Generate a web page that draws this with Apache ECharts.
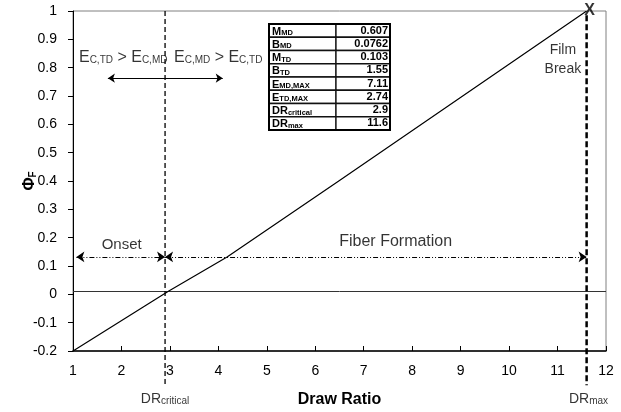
<!DOCTYPE html>
<html><head><meta charset="utf-8">
<script src="https://cdn.jsdelivr.net/npm/echarts@6/dist/echarts.min.js"></script>
<style>html,body{margin:0;padding:0;background:#fff}#c{width:621px;height:412px}</style>
</head><body><div id="c"></div>
<script>
// ---- data ----
const curveX = [1, 2.96, 4.18, 6.5, 11.6];
const curveY = [-0.2, 0.01, 0.132, 0.402, 1.0];
const zeroLineY = 0.01;
const drCritical = 2.9;
const drMax = 11.6;
const xRange = [1, 12];
const yRange = [-0.2, 1];
const formationArrowY = 0.132;
const onsetRange = [1.07, drCritical];
const fiberRange = [drCritical, drMax];
const ecArrowY = 0.763;
const ecArrowRange = [1.72, 4.09];
const tableLabels = [['M','MD'],['B','MD'],['M','TD'],['B','TD'],['E','MD,MAX'],['E','TD,MAX'],['DR','critical'],['DR','max']];
const tableValues = ['0.607','0.0762','0.103','1.55','7.11','2.74','2.9','11.6'];

const FONT = '"Liberation Sans", Arial, sans-serif';
const chart = echarts.init(document.getElementById('c'), null, {renderer:'canvas'});

const curveData = curveX.map((x,i)=>[x, curveY[i]]);

const subRich = {
  n:{fontSize:16, lineHeight:20, verticalAlign:'bottom', color:'#000', fontFamily:FONT},
  s:{fontSize:10, lineHeight:14, verticalAlign:'bottom', color:'#000', fontFamily:FONT}
};
const drRich = {
  n:{fontSize:14, lineHeight:18, verticalAlign:'bottom', color:'#000', fontFamily:FONT},
  s:{fontSize:10, lineHeight:11, verticalAlign:'bottom', color:'#000', fontFamily:FONT}
};

function ann(x, y, text, extra){
  return {value:[x,y], label:Object.assign({show:true, formatter:text, position:'inside', color:'#000', fontFamily:FONT, fontSize:15}, extra||{})};
}

const annotations = [
  ann(2.036, 0.844, '{n|E}{s|C,TD}{n| > E}{s|C,MD}', {rich:subRich}),
  ann(3.997, 0.844, '{n|E}{s|C,MD}{n| > E}{s|C,TD}', {rich:subRich}),
  ann(2.005, 0.173, 'Onset', {fontSize:15}),
  ann(7.66, 0.187, 'Fiber Formation', {fontSize:16}),
  ann(11.11, 0.828, 'Film\nBreak', {fontSize:14, align:'center', lineHeight:19}),
  ann(11.66, 1.0, 'X', {fontSize:16, fontWeight:'bold'}),
  ann(drCritical, -0.363, '{n|DR}{s|critical}', {rich:drRich}),
  ann(11.64, -0.363, '{n|DR}{s|max}', {rich:drRich})
];

// table graphic
const tLeft = 269, tTop = 24, c1 = 67, c2 = 54, rh = 13.25;
const graphics = [];
tableLabels.forEach((lab, i) => {
  const y = tTop + i*rh;
  graphics.push({type:'rect', shape:{x:tLeft, y:y, width:c1, height:rh}, style:{fill:'#fff', stroke:'#111', lineWidth:1.3}, z:10});
  graphics.push({type:'rect', shape:{x:tLeft+c1, y:y, width:c2, height:rh}, style:{fill:'#fff', stroke:'#111', lineWidth:1.3}, z:10});
  graphics.push({type:'text', x:tLeft+3, y:y+rh/2, z:11, style:{
    text:'{m|'+lab[0]+'}{s|'+lab[1]+'}', verticalAlign:'middle', align:'left',
    rich:{m:{fontSize:11, fontWeight:'bold', lineHeight:13, verticalAlign:'bottom', fontFamily:FONT, fill:'#000'},
          s:{fontSize:7.5, fontWeight:'bold', lineHeight:7, verticalAlign:'bottom', fontFamily:FONT, fill:'#000'}}
  }});
  graphics.push({type:'text', x:tLeft+c1+c2-2, y:y+rh/2, z:11, style:{
    text:tableValues[i], align:'right', verticalAlign:'middle', fontSize:11, fontWeight:'bold', fontFamily:FONT, fill:'#000'
  }});
});
graphics.push({type:'rect', shape:{x:tLeft, y:tTop, width:c1+c2, height:rh*tableLabels.length}, style:{fill:'none', stroke:'#000', lineWidth:2}, z:12});

const arrowDash = [5,2,1,2,1,2];

const option = {
  animation:false,
  textStyle:{fontFamily:FONT},
  grid:{left:73, right:15, top:11, bottom:61, show:true, borderColor:'#808080', borderWidth:1, outerBoundsMode:'none', containLabel:false},
  xAxis:{type:'value', min:xRange[0], max:xRange[1], interval:1,
    axisLine:{show:true, onZero:false, lineStyle:{color:'#000', width:1.5}},
    axisTick:{show:true, inside:true, length:5, lineStyle:{color:'#000'}},
    splitLine:{show:false},
    axisLabel:{fontSize:14, color:'#000', margin:13, fontFamily:FONT},
    name:'Draw Ratio', nameLocation:'middle', nameGap:41,
    nameTextStyle:{fontSize:16, fontWeight:'bold', color:'#000', fontFamily:FONT}
  },
  yAxis:{type:'value', min:yRange[0], max:yRange[1], interval:0.1,
    axisLine:{show:true, onZero:false, lineStyle:{color:'#000', width:1}},
    axisTick:{show:true, inside:false, length:5, lineStyle:{color:'#000'}},
    splitLine:{show:false},
    axisLabel:{fontSize:14, color:'#000', margin:16, fontFamily:FONT},
    name:'{a|Φ}{b|F}', nameLocation:'middle', nameGap:35, nameRotate:90, nameMoveOverlap:false,
    nameTextStyle:{rich:{
      a:{fontSize:16, fontWeight:'bold', lineHeight:20, verticalAlign:'bottom', color:'#000', fontFamily:FONT},
      b:{fontSize:10, fontWeight:'bold', lineHeight:12, verticalAlign:'bottom', color:'#000', fontFamily:FONT}}}
  },
  graphic:graphics,
  series:[
    {type:'line', name:'zero', data:[[xRange[0],zeroLineY],[xRange[1],zeroLineY]], symbol:'none', lineStyle:{color:'#333', width:1}, silent:true, z:1},
    {type:'line', name:'curve', data:curveData, symbol:'none', lineStyle:{color:'#000', width:1.2}, z:3},
    {type:'line', name:'drc', data:[[drCritical, yRange[1]],[drCritical,-0.321]], symbol:'none', clip:false, lineStyle:{color:'#000', width:1.3, type:[5,3]}, z:2},
    {type:'line', name:'drm', data:[[drMax, 0.985],[drMax,-0.321]], symbol:'none', clip:false, lineStyle:{color:'#000', width:2.5, type:[6,3]}, z:2},
    {type:'lines', coordinateSystem:'cartesian2d', symbol:['arrow','arrow'], symbolSize:8,
      lineStyle:{color:'#000', width:1, type:arrowDash, opacity:1}, z:4,
      data:[{coords:[[onsetRange[0],formationArrowY],[onsetRange[1],formationArrowY]]},
            {coords:[[fiberRange[0],formationArrowY],[fiberRange[1],formationArrowY]]}]},
    {type:'lines', coordinateSystem:'cartesian2d', symbol:['arrow','arrow'], symbolSize:7,
      lineStyle:{color:'#000', width:1, opacity:1}, z:4,
      data:[{coords:[[ecArrowRange[0],ecArrowY],[ecArrowRange[1],ecArrowY]]}]},
    {type:'scatter', name:'annotations', data:annotations, symbolSize:1, clip:false, itemStyle:{color:'rgba(0,0,0,0)'}, z:5, silent:true}
  ]
};
chart.setOption(option);
</script></body></html>
